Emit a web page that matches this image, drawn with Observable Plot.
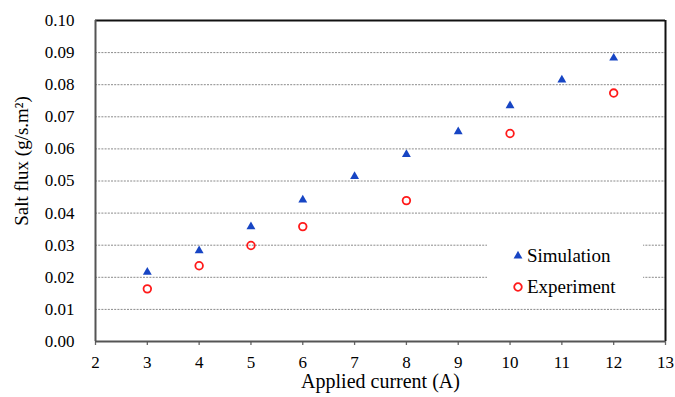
<!DOCTYPE html>
<html>
<head>
<meta charset="utf-8">
<script src="https://cdn.jsdelivr.net/npm/d3@7"></script>
<script src="https://cdn.jsdelivr.net/npm/@observablehq/plot@0.6"></script>
<style>
  body { margin: 0; background: #fff; }
  #wrap { position: relative; width: 675px; height: 397px; font-family: "Liberation Serif"; }
  #wrap svg text { font-family: "Liberation Serif"; }
  #legend { position: absolute; left: 487px; top: 236px; width: 156px; height: 66px; background: #fff; font-size: 19px; color: #000; font-family: "Liberation Serif"; }
  #legend .row { position: absolute; left: 25px; height: 22px; display: flex; align-items: center; }
  #legend svg { margin-right: 3px; }
  #ytitle { position: absolute; left: 22px; top: 161px; transform: translate(-50%, -50%) rotate(-90deg); white-space: nowrap; font-size: 19px; color: #000; font-family: "Liberation Serif"; }
</style>
</head>
<body>
<div id="wrap"></div>
<script>
const currents = [3, 4, 5, 6, 7, 8, 9, 10, 11, 12];
const simulation = [0.0216, 0.0283, 0.0358, 0.0441, 0.0514, 0.0583, 0.0654, 0.0735, 0.0815, 0.0883];
const expCurrents = [3, 4, 5, 6, 8, 10, 12];
const experiment = [0.0164, 0.0236, 0.0299, 0.0358, 0.0439, 0.0648, 0.0774];
const xTicks = [2, 3, 4, 5, 6, 7, 8, 9, 10, 11, 12, 13];
const yTicks = [0, 0.01, 0.02, 0.03, 0.04, 0.05, 0.06, 0.07, 0.08, 0.09, 0.10];
const xTitle = "Applied current (A)";
const yTitle = "Salt flux (g/s.m²)";
const seriesNames = ["Simulation", "Experiment"];

const simData = currents.map((c, i) => ({x: c, y: simulation[i]}));
const expData = expCurrents.map((c, i) => ({x: c, y: experiment[i]}));
const xDomain = [xTicks[0], xTicks[xTicks.length - 1]];
const yDomain = [yTicks[0], yTicks[yTicks.length - 1]];
const gridVals = yTicks.slice(1, -1);

const blue = "#1745c4";
const red = "#ff1a1a";

const chart = Plot.plot({
  width: 675,
  height: 397,
  marginLeft: 95,
  marginRight: 10,
  marginTop: 20,
  marginBottom: 56,
  style: {fontFamily: "Liberation Serif", color: "#000", background: "#fff"},
  x: {domain: xDomain},
  y: {domain: yDomain},
  marks: [
    Plot.ruleY(gridVals, {stroke: "#8a8a8a", strokeWidth: 1, strokeDasharray: "2,1.2"}),
    Plot.axisX({ticks: xTicks, tickSize: 4, tickPadding: 10, fontSize: 17, stroke: "#666", tickFormat: d => String(d), label: null, strokeWidth: 1.3}),
    Plot.axisY({ticks: yTicks, tickSize: 0, tickPadding: 21, fontSize: 17, tickFormat: d3.format(".2f"), label: null}),
    Plot.text([xTitle], {frameAnchor: "bottom", dy: 40, fontSize: 20, lineAnchor: "middle", fill: "#000"}),
    Plot.ruleY([yDomain[1]], {stroke: "#111", strokeWidth: 2}),
    Plot.ruleX([xDomain[1]], {stroke: "#111", strokeWidth: 2}),
    Plot.ruleX([xDomain[0]], {stroke: "#555", strokeWidth: 2}),
    Plot.ruleY([yDomain[0]], {stroke: "#555", strokeWidth: 2}),
    Plot.dot(simData, {x: "x", y: "y", symbol: "triangle", r: 3.3, fill: blue, stroke: "none"}),
    Plot.dot(expData, {x: "x", y: "y", symbol: "circle", r: 3.8, fill: "none", stroke: red, strokeWidth: 1.8})
  ]
});
const wrap = document.getElementById("wrap");
wrap.appendChild(chart);

const yt = document.createElement("div");
yt.id = "ytitle";
yt.textContent = yTitle;
wrap.appendChild(yt);

const legend = document.createElement("div");
legend.id = "legend";
legend.innerHTML = `
  <div class="row" style="top:9px"><svg width="12" height="12" viewBox="-6 -6 12 12"><path d="${d3.symbol(d3.symbolTriangle, 3.3*3.3*Math.PI)()}" fill="${blue}"/></svg><span>${seriesNames[0]}</span></div>
  <div class="row" style="top:40px"><svg width="12" height="12" viewBox="-6 -6 12 12"><circle r="3.8" fill="none" stroke="${red}" stroke-width="1.8"/></svg><span>${seriesNames[1]}</span></div>`;
wrap.appendChild(legend);
</script>
</body>
</html>
